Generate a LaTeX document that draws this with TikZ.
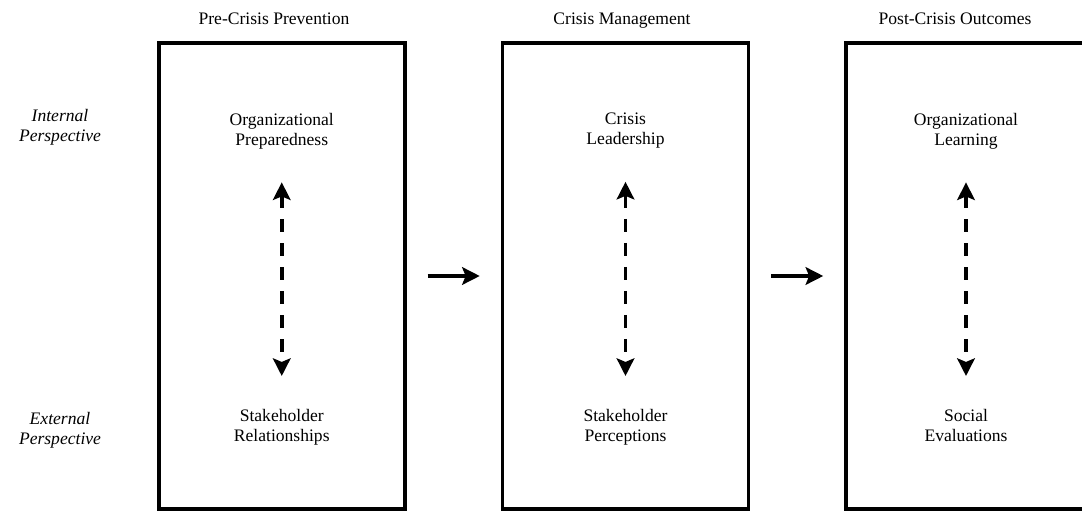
\documentclass[tikz,border=0pt]{standalone}
\usepackage{fontspec}
\setmainfont{Liberation Serif}
\usetikzlibrary{arrows.meta}

\begin{document}
\begin{tikzpicture}[
  box/.style={draw, line width=2pt, minimum width=4.92cm, minimum height=9.32cm, inner sep=0pt},
  lbl/.style={align=center, inner sep=0pt, font=\fontsize{10}{11.5}\selectfont},
  side/.style={lbl, font=\fontsize{10}{11.5}\selectfont\itshape},
  link/.style={line width=2pt, dash pattern=on 0.26cm off 0.22cm,
    {Stealth[length=10pt,width=10pt,inset=2pt]}-{Stealth[length=10pt,width=10pt,inset=2pt]},
    shorten <=0.66cm, shorten >=0.66cm},
  flow/.style={line width=2pt, -{Stealth[length=10pt,width=10pt,inset=2pt]},
    shorten <=0.42cm, shorten >=0.42cm}]
\clip (0,0) rectangle (21.64,-10.22);
% the three phases
\node[box] (prev) at (5.635,-5.52) {};
\node[box] (man) at (12.51,-5.52) {};
\node[box] (out) at (19.38,-5.52) {};
\node[lbl, anchor=base] (tprev) at (5.48,-0.49) {Pre-Crisis Prevention};
\node[lbl, anchor=base] (tman) at (12.44,-0.49) {Crisis Management};
\node[lbl, anchor=base] (tout) at (19.10,-0.49) {Post-Crisis Outcomes};
% perspectives
\node[side] (intp) at (1.2,-2.54) {Internal\\Perspective};
\node[side] (extp) at (1.2,-8.6) {External\\Perspective};
% contents of the boxes
\node[lbl, anchor=north] (prep) at (5.635,-2.25) {Organizational\\Preparedness};
\node[lbl, anchor=north] (rel) at (5.635,-8.18) {Stakeholder\\Relationships};
\node[lbl, anchor=north] (lead) at (12.51,-2.25) {Crisis\\Leadership};
\node[lbl, anchor=north] (perc) at (12.51,-8.18) {Stakeholder\\Perceptions};
\node[lbl, anchor=north] (learn) at (19.32,-2.25) {Organizational\\Learning};
\node[lbl, anchor=north] (eval) at (19.32,-8.18) {Social\\Evaluations};
\draw[link] (prep) -- (rel);
\draw[link] (lead) -- (perc);
\draw[link] (learn) -- (eval);
\draw[flow] (prev) -- (man);
\draw[flow] (man) -- (out);
\end{tikzpicture}
\end{document}
